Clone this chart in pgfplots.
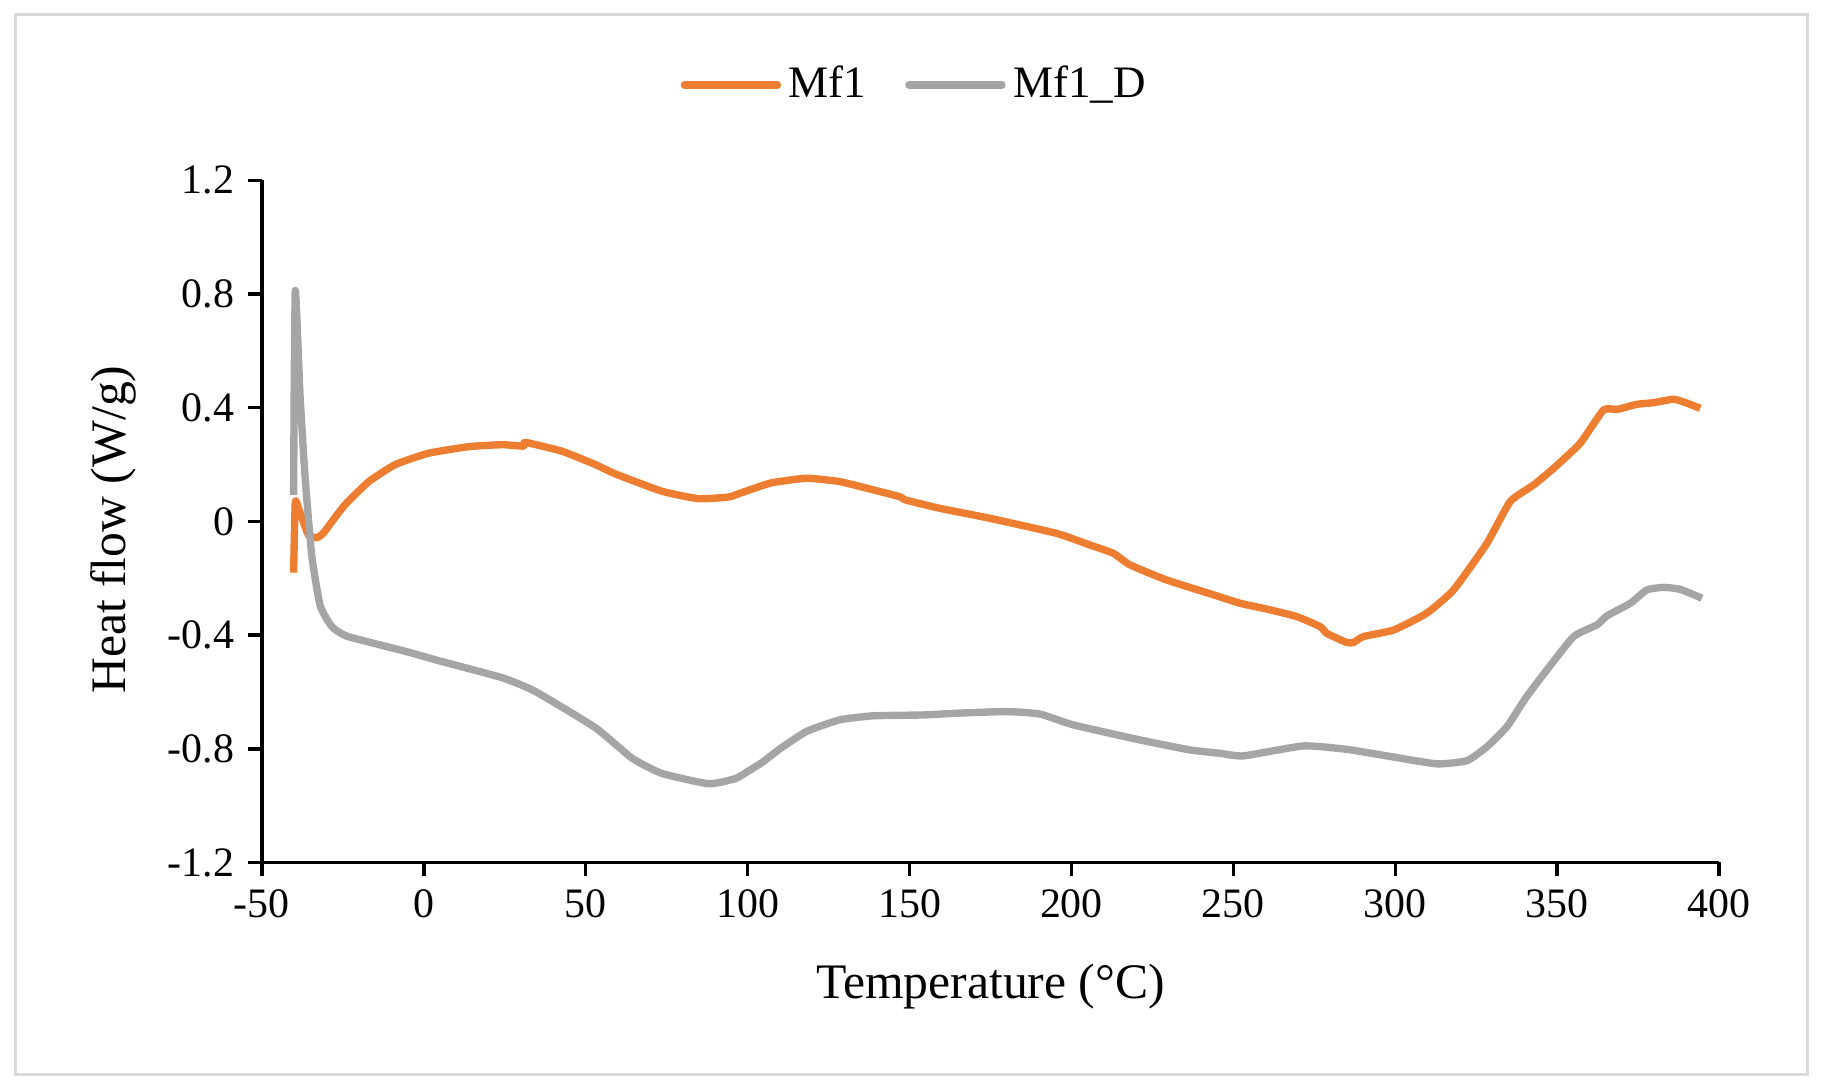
\documentclass[border=0pt]{standalone}
\usepackage{fontspec}
\setmainfont{Liberation Serif}
\usepackage{pgfplots}
\pgfplotsset{compat=1.18}
\definecolor{mforange}{HTML}{ED7D31}
\definecolor{mfgray}{HTML}{A5A5A5}
\definecolor{framegray}{HTML}{D9D9D9}
\begin{document}
\begin{tikzpicture}
\useasboundingbox (0,0) rectangle (470.4pt,280.95pt);
\draw[framegray, line width=0.8pt] (3.9pt,4.05pt) rectangle (465.9pt,277.1pt);
\begin{axis}[
  at={(67.5pt,58.65pt)}, anchor=south west,
  scale only axis, width=375.6pt, height=175.8pt,
  xmin=-50, xmax=400, ymin=-1.2, ymax=1.2,
  clip=false,
  axis lines=left,
  axis line style={-, line width=0.9pt, black},
  xtick={-50,0,50,100,150,200,250,300,350,400},
  xticklabels={-50,0,50,100,150,200,250,300,350,400},
  ytick={-1.2,-0.8,-0.4,0,0.4,0.8,1.2},
  yticklabels={-1.2,-0.8,-0.4,0,0.4,0.8,1.2},
  tick align=outside, major tick length=3.6pt,
  tick style={line width=0.9pt, black},
  ticklabel style={font=\fontsize{10.8}{12}\selectfont},
  xlabel={Temperature (°C)},
  ylabel={Heat flow (W/g)},
  xlabel style={font=\fontsize{12.8}{15}\selectfont, at={(axis description cs:0.5,-0.1826)}, anchor=center},
  ylabel style={font=\fontsize{12.8}{15}\selectfont, at={(axis description cs:-0.1022,0.488)}, anchor=center},
  legend style={at={(axis description cs:0.4497,1.14)}, anchor=center, draw=none, fill=none,
    font=\fontsize{11.6}{13.5}\selectfont,
    /tikz/every even column/.append style={column sep=8pt}},
  legend columns=2,
  legend image code/.code={\draw[#1, line width=1.9pt, line cap=round] (0pt,0pt) -- (24pt,0pt);},
]
\addplot[mforange, line width=1.9pt, line join=round, smooth, tension=0.3] coordinates {
(-40.2,-0.18) (-39.7,0.066) (-38.8,0.05) (-37.6,0.012) (-35.6,-0.048) (-33,-0.057) (-31,-0.041)
(-28,0.005) (-24.3,0.059) (-17,0.14) (-8.8,0.2) (1.5,0.24) (13.9,0.263) (24.2,0.27) (30.8,0.265)
(31.4,0.278) (42.7,0.247) (53,0.2) (59.2,0.167) (73.6,0.106) (84.9,0.08) (94.2,0.086) (97.6,0.099)
(104.5,0.126) (107.9,0.137) (118.2,0.152) (128.5,0.14) (138.8,0.111) (147,0.087) (148.6,0.076)
(159.4,0.046) (174.8,0.011) (195.4,-0.042) (205.7,-0.083) (212.9,-0.112) (218.1,-0.153)
(229.4,-0.206) (243.8,-0.258) (252.1,-0.288) (261.3,-0.311) (269.6,-0.335) (276.8,-0.37)
(278.9,-0.394) (285,-0.426) (287.1,-0.426) (290.2,-0.405) (299.5,-0.382) (309.7,-0.323)
(318,-0.241) (328.3,-0.077) (335.5,0.07) (342.7,0.128) (348.9,0.187) (357.1,0.275) (364.3,0.392)
(368.5,0.394) (374.6,0.412) (379.8,0.418) (386,0.43) (390.1,0.416) (394.2,0.398)
};
\addlegendentry{Mf1}
\addplot[mfgray, line width=1.9pt, line join=round, smooth, tension=0.3] coordinates {
(-40.2,0.093) (-40.0,0.5) (-39.7,0.81) (-39.2,0.72) (-38.2,0.44) (-36.6,0.147) (-34.6,-0.12)
(-32,-0.296) (-28.4,-0.37) (-23.7,-0.404) (-5.7,-0.457) (4.6,-0.49) (24.2,-0.55) (34.4,-0.598)
(53,-0.726) (64.3,-0.833) (73.6,-0.887) (88,-0.923) (96.2,-0.905) (100,-0.88) (104.5,-0.848)
(110,-0.8) (118.2,-0.739) (128.5,-0.698) (138.8,-0.684) (154.2,-0.681) (164.5,-0.675) (180,-0.669)
(190.3,-0.678) (200.6,-0.716) (221.2,-0.769) (236.6,-0.804) (245.9,-0.816) (253.1,-0.825)
(271.6,-0.79) (285,-0.802) (297.4,-0.825) (312.8,-0.853) (322.1,-0.842) (328.3,-0.793)
(334.5,-0.722) (340.6,-0.616) (346.8,-0.523) (355.1,-0.405) (362.3,-0.364) (365.4,-0.332)
(372.6,-0.288) (377.7,-0.241) (382.9,-0.232) (388,-0.239) (394.7,-0.27)
};
\addlegendentry{Mf1\_D}
\end{axis}
\end{tikzpicture}
\end{document}
